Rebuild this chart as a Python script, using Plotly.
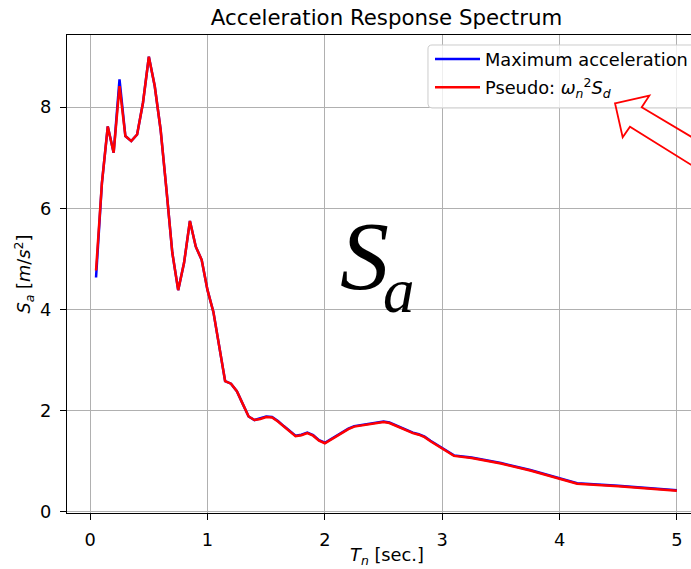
import plotly.graph_objects as go

# ---- data ----
period = [0.05, 0.10, 0.15, 0.20, 0.25, 0.30, 0.35, 0.40, 0.45, 0.50,
          0.55, 0.60, 0.65, 0.70, 0.75, 0.80, 0.85, 0.90, 0.95, 1.00,
          1.05, 1.10, 1.15, 1.20, 1.25, 1.30, 1.35, 1.40, 1.45, 1.50,
          1.55, 1.60, 1.65, 1.70, 1.75, 1.80, 1.85, 1.90, 1.95, 2.00,
          2.05, 2.10, 2.15, 2.20, 2.25, 2.30, 2.35, 2.40, 2.45, 2.50,
          2.55, 2.60, 2.65, 2.70, 2.75, 2.80, 2.85, 2.90, 2.95, 3.00,
          3.05, 3.10, 3.25, 3.50, 3.75, 4.00, 4.15, 4.50, 5.00]

pseudo_sa = [4.77, 6.50, 7.62, 7.10, 8.42, 7.43, 7.33, 7.46, 8.09, 9.00,
             8.42, 7.56, 6.37, 5.12, 4.38, 4.92, 5.75, 5.24, 4.98, 4.38,
             3.95, 3.27, 2.58, 2.53, 2.38, 2.13, 1.88, 1.81, 1.83, 1.87,
             1.86, 1.78, 1.68, 1.58, 1.49, 1.51, 1.55, 1.50, 1.40, 1.35,
             1.42, 1.50, 1.57, 1.63, 1.68, 1.70, 1.71, 1.74, 1.76, 1.77,
             1.75, 1.70, 1.65, 1.60, 1.55, 1.52, 1.47, 1.39, 1.32, 1.25,
             1.17, 1.10, 1.06, 0.95, 0.81, 0.65, 0.55, 0.50, 0.41]

max_sa = [4.63, 6.50, 7.62, 7.10, 8.55, 7.43, 7.33, 7.46, 8.09, 9.00,
          8.42, 7.56, 6.37, 5.12, 4.38, 4.92, 5.75, 5.24, 4.98, 4.38,
          3.95, 3.27, 2.58, 2.53, 2.38, 2.13, 1.88, 1.81, 1.84, 1.88,
          1.87, 1.79, 1.69, 1.59, 1.50, 1.52, 1.56, 1.51, 1.41, 1.36,
          1.43, 1.51, 1.58, 1.64, 1.69, 1.71, 1.72, 1.75, 1.77, 1.78,
          1.76, 1.71, 1.66, 1.61, 1.56, 1.53, 1.48, 1.40, 1.33, 1.26,
          1.18, 1.11, 1.07, 0.96, 0.82, 0.66, 0.56, 0.51, 0.42]

x_ticks = [0, 1, 2, 3, 4, 5]
y_ticks = [0, 2, 4, 6, 8]

FONT = "DejaVu Sans"
W, H = 691, 569
L, R, T, B = 67, 0, 35, 56

fig = go.Figure()
fig.add_trace(go.Scatter(x=period, y=max_sa, mode="lines",
                         line=dict(color="blue", width=2.5),
                         name="Maximum acceleration", legendgroup="a"))
fig.add_trace(go.Scatter(x=period, y=pseudo_sa, mode="lines",
                         line=dict(color="red", width=2.5),
                         name="Pseudo: <i>ω</i><sub><i>n</i></sub><sup>2</sup><i>S</i><sub><i>d</i></sub>",
                         legendgroup="b"))

plot_w = W - L - R
plot_h = H - T - B


def px2paper(px, py):
    return (px - L) / plot_w, (H - B - py) / plot_h


def path_from(points, close=True):
    pts = [px2paper(a, b) for a, b in points]
    s = "M " + " L ".join(f"{a:.4f},{b:.4f}" for a, b in pts)
    return s + (" Z" if close else "")


# legend frame (drawn as a shape so the arrow can sit on top of it)
r = 4
x0, y0, x1, y1 = 428, 45, 720, 108
c = [px2paper(x0, y0 + r), px2paper(x0, y1 - r), px2paper(x0, y1), px2paper(x0 + r, y1),
     px2paper(x1, y1), px2paper(x1, y0), px2paper(x0 + r, y0), px2paper(x0, y0)]
frame = (f"M {c[0][0]:.4f},{c[0][1]:.4f} L {c[1][0]:.4f},{c[1][1]:.4f} "
         f"Q {c[2][0]:.4f},{c[2][1]:.4f} {c[3][0]:.4f},{c[3][1]:.4f} "
         f"L {c[4][0]:.4f},{c[4][1]:.4f} L {c[5][0]:.4f},{c[5][1]:.4f} "
         f"L {c[6][0]:.4f},{c[6][1]:.4f} Q {c[7][0]:.4f},{c[7][1]:.4f} {c[0][0]:.4f},{c[0][1]:.4f} Z")
fig.add_shape(type="path", path=frame, xref="paper", yref="paper", layer="above",
              line=dict(color="#cccccc", width=1), fillcolor="rgba(255,255,255,0.8)")

# hollow arrow outline (annotation decoration)
arrow_px = [(615, 103.3), (649.3, 95.7), (641.7, 107.3), (705, 145.0),
            (705, 173.5), (630, 126.7), (622.7, 137.3)]
fig.add_shape(type="path", path=path_from(arrow_px), xref="paper", yref="paper", layer="above",
              line=dict(color="red", width=1.8), fillcolor="rgba(0,0,0,0)")

# large S_a label (S and subscript a as two text pieces)
sx, sy = px2paper(364, 256)
fig.add_annotation(text="<i>S</i>", x=sx, y=sy,
                   xref="paper", yref="paper", xanchor="center", yanchor="middle",
                   showarrow=False,
                   font=dict(family="Liberation Serif", size=98, color="black"))
ax_, ay_ = px2paper(399, 291)
fig.add_annotation(text="<i>a</i>", x=ax_, y=ay_,
                   xref="paper", yref="paper", xanchor="center", yanchor="middle",
                   showarrow=False,
                   font=dict(family="Liberation Serif", size=63, color="black"))

# x axis title as annotation (centered on the full axes incl. offscreen part)
tx, ty = px2paper(387, 556)
fig.add_annotation(text="<i>T</i><sub><i>n</i></sub> [sec.]", x=tx, y=ty,
                   xref="paper", yref="paper", xanchor="center", yanchor="middle",
                   showarrow=False, font=dict(family=FONT, size=17.8, color="black"))

fig.update_layout(
    width=W, height=H,
    margin=dict(l=L, r=R, t=T, b=B, pad=0, autoexpand=False),
    paper_bgcolor="white", plot_bgcolor="white",
    font=dict(family=FONT, size=17.8, color="black"),
    title=dict(text="Acceleration Response Spectrum", x=386.5 / W, xref="container",
               xanchor="center", y=1 - 18 / H, yref="container", yanchor="middle",
               font=dict(family=FONT, size=21.3, color="black")),
    showlegend=True,
    legend=dict(x=(430 - L) / plot_w, y=(H - B - 41) / plot_h, xanchor="left", yanchor="top",
                bgcolor="rgba(0,0,0,0)", borderwidth=0,
                font=dict(family=FONT, size=17.8, color="black"),
                tracegroupgap=2, itemwidth=45),
    xaxis=dict(range=[-0.1975, 5.12], tickvals=x_ticks, ticktext=[str(v) for v in x_ticks],
               showgrid=True, gridcolor="#b0b0b0", gridwidth=1.3,
               showline=True, linecolor="black", linewidth=1.4, mirror=True,
               ticks="outside", ticklen=6, tickwidth=1.4, tickcolor="black",
               zeroline=False, ticklabelstandoff=4),
    yaxis=dict(range=[-0.03, 9.43], tickvals=y_ticks, ticktext=[str(v) for v in y_ticks],
               showgrid=True, gridcolor="#b0b0b0", gridwidth=1.3,
               showline=True, linecolor="black", linewidth=1.4, mirror=False,
               ticks="outside", ticklen=6, tickwidth=1.4, tickcolor="black",
               zeroline=False, ticklabelstandoff=5,
               title=dict(text="<i>S</i><sub><i>a</i></sub> [<i>m</i>/<i>s</i><sup>2</sup>]",
                          font=dict(family=FONT, size=17.8, color="black"), standoff=4)),
)

fig.write_html("out.html")
